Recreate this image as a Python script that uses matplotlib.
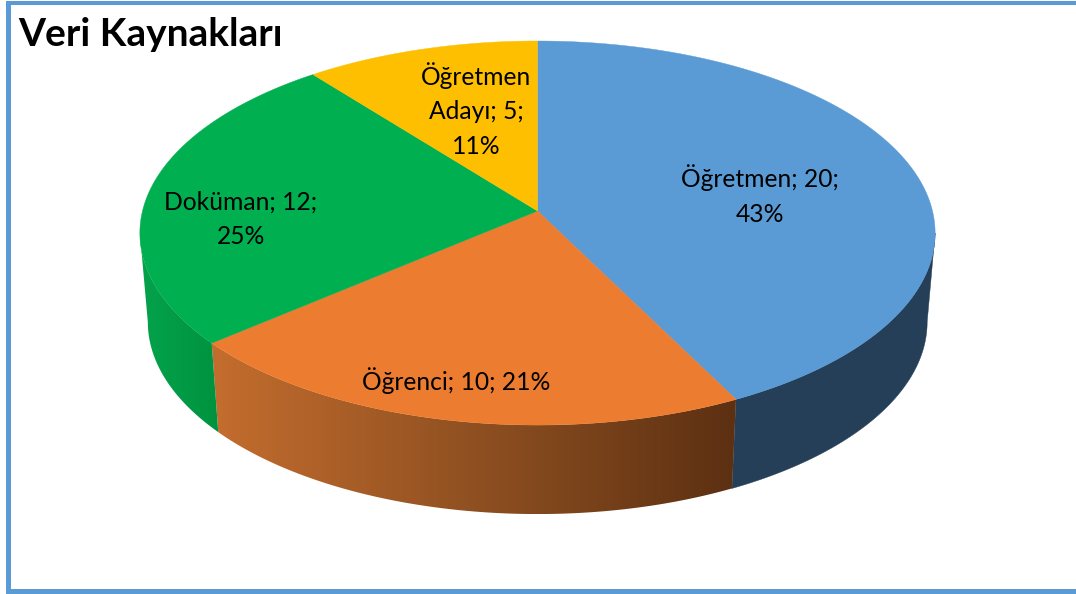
#!/usr/bin/env python3
# -*- coding: utf-8 -*-
import numpy as np
import matplotlib
matplotlib.use('Agg')
import matplotlib.pyplot as plt
from matplotlib.colors import LinearSegmentedColormap
from matplotlib.patches import Polygon, Rectangle

# data
categories = ['Öğretmen', 'Öğrenci', 'Doküman', 'Öğretmen\nAdayı']
values = [20, 10, 12, 5]
percents = [43, 21, 25, 11]
top_colors = ['#5B9BD5', '#EB7C30', '#00AF50', '#FDBF00']
title = 'Veri Kaynakları'

plt.rcParams['font.family'] = ['Lato', 'DejaVu Sans']

W, H = 1076, 594
CX, CY = 537.5, 211     # pie centre as seen on screen
A, B, K = 395, 189.5, 0.1147   # tilt of the disc
DEPTH, SHRINK = 89, 0.98
BLUE = '#5B9BD5'
# where the disc is widest, the side wall starts there
T_WIDE = np.arccos(-K)


def rim(t, bottom=False):
    # t in radians clockwise from top, perspective projection of the circle
    u, v = np.sin(t), np.cos(t)
    d = 1 + K * v
    x = A * u / d
    y = B * v / d
    if bottom:
        return CX + SHRINK * x, CY - y + DEPTH
    return CX + x, CY - y


def side_poly(t0, t1):
    t0 = max(t0, T_WIDE)
    t1 = min(t1, 2 * np.pi - T_WIDE)
    t = np.linspace(t0, t1, 200)
    x0, y0 = rim(t)
    x1, y1 = rim(t, bottom=True)
    return np.column_stack([np.r_[x0, x1[::-1]], np.r_[y0, y1[::-1]]])


fig = plt.figure(figsize=(W / 100, H / 100), dpi=100)
ax = fig.add_axes([0, 0, 1, 1])
ax.set_xlim(0, W)
ax.set_ylim(H, 0)
ax.axis('off')

# frame, no line on the right
ax.add_patch(Rectangle((6, 1), W - 6, 3.5, color=BLUE, lw=0))
ax.add_patch(Rectangle((6, 1), 5, H - 1, color=BLUE, lw=0))
ax.add_patch(Rectangle((6, 589), W - 6, 5, color=BLUE, lw=0))

edges = np.r_[0, np.cumsum(values)] / sum(values) * 2 * np.pi

# sides first, the top faces cover what is hidden
side_blue = Polygon(side_poly(edges[0], edges[1]), fc='#243F57', ec='#243F57', lw=0.3)
ax.add_patch(side_blue)

orange_cmap = LinearSegmentedColormap.from_list('o', ['#C46D2E', '#8F5021', '#5C3012'])
green_cmap = LinearSegmentedColormap.from_list('g', ['#04A24C', '#00933F'])
for i, cmap in [(1, orange_cmap), (2, green_cmap)]:
    poly = side_poly(edges[i], edges[i + 1])
    patch = Polygon(poly, fc='none', ec='none')
    ax.add_patch(patch)
    x0, x1 = poly[:, 0].min(), poly[:, 0].max()
    grad = np.linspace(0, 1, 256)[None, :]
    im = ax.imshow(grad, cmap=cmap, extent=(x0, x1, poly[:, 1].max(), poly[:, 1].min()),
                   aspect='auto', interpolation='bilinear', zorder=1)
    im.set_clip_path(patch)
ax.set_xlim(0, W)
ax.set_ylim(H, 0)

for i in range(len(values)):
    t = np.linspace(edges[i], edges[i + 1], 200)
    x, y = rim(t)
    pts = np.column_stack([np.r_[CX, x], np.r_[CY, y]])
    ax.add_patch(Polygon(pts, fc=top_colors[i], ec=top_colors[i], lw=0.3, zorder=2))

# labels, wrapped the way the picture wraps them
labels = [
    f'{categories[0]}; {values[0]};\n{percents[0]}%',
    f'{categories[1]}; {values[1]}; {percents[1]}%',
    f'{categories[2]}; {values[2]};\n{percents[2]}%',
    f'{categories[3]}; {values[3]};\n{percents[3]}%',
]
label_pos = [(760, 195), (456, 381), (241, 219), (476, 110)]
for s, (x, y) in zip(labels, label_pos):
    ax.text(x, y, s, ha='center', va='center', fontsize=17.7, color='black',
            linespacing=1.6, zorder=3)

ax.text(18, 35, title, ha='left', va='center', fontsize=28, fontweight='bold',
        color='black', zorder=3)

fig.savefig('out.png', dpi=100)
